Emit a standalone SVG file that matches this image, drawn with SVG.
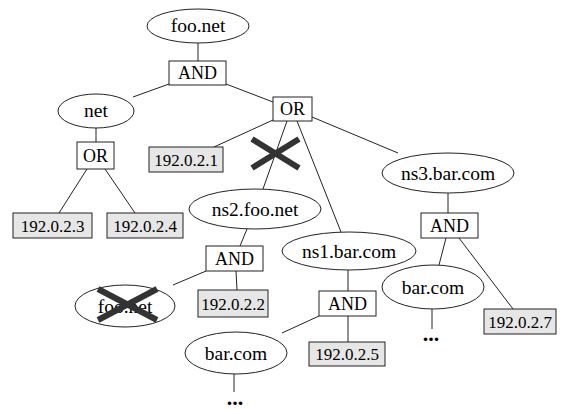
<svg xmlns="http://www.w3.org/2000/svg" width="566" height="410" viewBox="0 0 566 410">
<style>
.n{fill:#fff;stroke:#222;stroke-width:1}
.ip{fill:#e6e6e6;stroke:#222;stroke-width:1}
.e line{stroke:#222;stroke-width:1}
.x line{stroke:#333;stroke-width:6}
text{font-family:'Liberation Serif','Times New Roman','DejaVu Serif',serif;fill:#000;text-anchor:middle}
.tl{font-size:19.5px}
.tb{font-size:18px}
.ti{font-size:17px}
.dots{font-size:22px;font-weight:bold}
</style>
<rect width="566" height="410" fill="#fff"/>
<g id="edges" class="e">
<line x1="198" y1="43" x2="198" y2="61"/>
<line x1="226" y1="84" x2="273" y2="102"/>
<line x1="169" y1="84" x2="133" y2="97"/>
<line x1="96" y1="128" x2="96" y2="142"/>
<line x1="87" y1="169" x2="59" y2="213"/>
<line x1="105" y1="169" x2="135" y2="213"/>
<line x1="273" y1="120" x2="214" y2="147"/>
<line x1="287" y1="121" x2="263" y2="189"/>
<line x1="297" y1="121" x2="341" y2="232"/>
<line x1="312" y1="117" x2="398" y2="153"/>
<line x1="247" y1="229" x2="240" y2="246"/>
<line x1="206" y1="271" x2="173" y2="285"/>
<line x1="236" y1="271" x2="237" y2="290"/>
<line x1="348" y1="270" x2="348" y2="291"/>
<line x1="319" y1="316" x2="282" y2="333"/>
<line x1="348" y1="316" x2="348" y2="342"/>
<line x1="234" y1="374" x2="234" y2="392"/>
<line x1="448" y1="193" x2="448" y2="213"/>
<line x1="446" y1="238" x2="439" y2="265"/>
<line x1="459" y1="238" x2="513" y2="309"/>
<line x1="432" y1="309" x2="432" y2="329"/>
</g>
<g id="foo_net"><ellipse class="n" cx="198" cy="26" rx="51" ry="17"/><text class="tl" x="198" y="32">foo.net</text></g>
<g id="and1"><rect class="n" x="169" y="61" width="57" height="24"/><text class="tb" x="197.5" y="79">AND</text></g>
<g id="or1"><rect class="n" x="273" y="97" width="39" height="24"/><text class="tb" x="292.5" y="115">OR</text></g>
<g id="net"><ellipse class="n" cx="96" cy="111" rx="38" ry="17"/><text class="tl" x="96" y="117">net</text></g>
<g id="or2"><rect class="n" x="77" y="142" width="37" height="27"/><text class="tb" x="95.5" y="162">OR</text></g>
<g id="ip3"><rect class="ip" x="13" y="213" width="79" height="25"/><text class="ti" x="52.5" y="232">192.0.2.3</text></g>
<g id="ip4"><rect class="ip" x="107" y="213" width="76" height="25"/><text class="ti" x="145" y="232">192.0.2.4</text></g>
<g id="ip1"><rect class="ip" x="149" y="147" width="74" height="25"/><text class="ti" x="186" y="166">192.0.2.1</text></g>
<g id="ns2_foo_net"><ellipse class="n" cx="255" cy="209" rx="66" ry="20"/><text class="tl" x="255" y="216">ns2.foo.net</text></g>
<g id="and2"><rect class="n" x="206" y="246" width="57" height="25"/><text class="tb" x="234.5" y="265">AND</text></g>
<g id="foo_net_2"><ellipse class="n" cx="125" cy="306" rx="50" ry="21"/><text class="tl" x="125" y="313">foo.net</text></g>
<g id="ip2"><rect class="ip" x="198" y="290" width="70" height="27"/><text class="ti" x="233" y="310">192.0.2.2</text></g>
<g id="ns1_bar_com"><ellipse class="n" cx="349" cy="251" rx="67" ry="19"/><text class="tl" x="349" y="258">ns1.bar.com</text></g>
<g id="and3"><rect class="n" x="319" y="291" width="57" height="25"/><text class="tb" x="347.5" y="310">AND</text></g>
<g id="ip5"><rect class="ip" x="309" y="342" width="76" height="24"/><text class="ti" x="347" y="360">192.0.2.5</text></g>
<g id="bar_com_1"><ellipse class="n" cx="236" cy="353" rx="51" ry="21"/><text class="tl" x="236" y="360">bar.com</text></g>
<g id="ns3_bar_com"><ellipse class="n" cx="448" cy="173" rx="66" ry="20"/><text class="tl" x="448" y="180">ns3.bar.com</text></g>
<g id="and4"><rect class="n" x="421" y="213" width="57" height="25"/><text class="tb" x="449.5" y="232">AND</text></g>
<g id="bar_com_2"><ellipse class="n" cx="433" cy="287" rx="51" ry="22"/><text class="tl" x="433" y="294">bar.com</text></g>
<g id="ip7"><rect class="ip" x="484" y="309" width="72" height="25"/><text class="ti" x="520" y="328">192.0.2.7</text></g>
<g id="dots1"><text class="dots" x="235" y="405">...</text></g>
<g id="dots2"><text class="dots" x="431" y="341">...</text></g>
<g id="crosses" class="x">
<line x1="252" y1="139" x2="299" y2="168"/>
<line x1="299" y1="139" x2="252" y2="168"/>
<line x1="98" y1="289" x2="157" y2="320"/>
<line x1="157" y1="289" x2="98" y2="320"/>
</g>
</svg>
